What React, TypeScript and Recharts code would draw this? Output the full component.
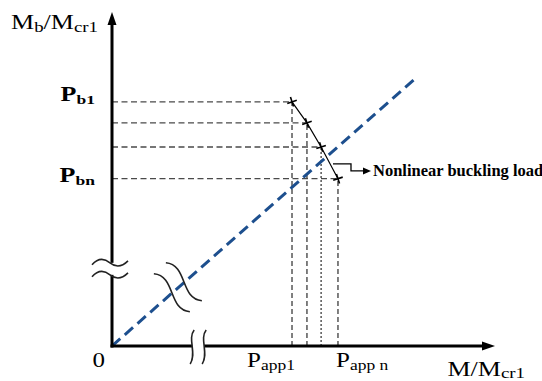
import React from "react";
import { ComposedChart, Line, XAxis, YAxis, ReferenceLine, ReferenceDot } from "recharts";

// ---- data ----
const pointX = [4.7, 5.09, 5.46, 5.9];
const pointY = [7.31, 6.68, 5.96, 5.01];
const loadLineX = [0, 7.96];
const loadLineY = [0, 8.05];
const xTicks = [0, 4.7, 5.9];
const xTickMain = ["0", "P", "P"];
const xTickSub = ["", "app1", "app n"];
const yTicks = [7.31, 5.01];
const yTickMain = ["P", "P"];
const yTickSub = ["b1", "bn"];
const yTitleParts = ["M", "b", "/M", "cr1"];
const xTitleParts = ["M/M", "cr1"];
const annotationText = "Nonlinear buckling load";
const axisMax = 10;
const breakOnY = 2.31;
const breakOnX = 2.25;
const breakOnDiag = { x: 1.72, y: 1.76 };
const annotationAnchor = { x: 5.77, y: 5.45 };

const polyData = pointX.map((x, i) => ({ x, y: pointY[i] }));
const loadData = loadLineX.map((x, i) => ({ x, y: loadLineY[i] }));

const SERIF = '"Liberation Serif", "Times New Roman", serif';
const BLUE = "#1d4f8e";
const GREY = "#4a4a4a";
const vDash = ["5 3", "5 3", "2 2", "5 3"];

const ArrowAxis = (props: any) => {
  const { x1, y1, x2, y2 } = props;
  const dx = x2 - x1;
  const dy = y2 - y1;
  const len = Math.hypot(dx, dy) || 1;
  const ux = dx / len;
  const uy = dy / len;
  const hl = 13;
  const hw = 4.5;
  const bx = x2 - ux * hl;
  const by = y2 - uy * hl;
  return (
    <g>
      <line x1={x1 - ux * 1.5} y1={y1 - uy * 1.5} x2={bx + ux * 2} y2={by + uy * 2} stroke="#000" strokeWidth={3} />
      <polygon
        points={`${x2},${y2} ${bx - uy * hw},${by + ux * hw} ${bx + uy * hw},${by - ux * hw}`}
        fill="#000"
      />
    </g>
  );
};

const Cross = ({ cx, cy }: any) => (
  <g transform={`translate(${cx},${cy}) rotate(-18)`}>
    <line x1={-5} y1={0} x2={5} y2={0} stroke="#000" strokeWidth={1.6} />
    <line x1={0} y1={-5} x2={0} y2={5} stroke="#000" strokeWidth={1.6} />
  </g>
);

const XTick = (props: any) => {
  const { x, y, payload, index } = props;
  let i = xTicks.indexOf(payload.value);
  if (i < 0) i = index;
  const anchor = i === 2 ? "start" : "end";
  const dx = i === 0 ? -7 : i === 1 ? 3 : -2;
  return (
    <g transform={`translate(${x + dx},${y + 21}) scale(1.25,1)`}>
      <text textAnchor={anchor} fontFamily={SERIF} fontSize={20} fill="#000" style={{ whiteSpace: "pre" }}>
        {xTickMain[i]}
        {xTickSub[i] ? (
          <tspan fontSize={14} dy={3}>
            {xTickSub[i]}
          </tspan>
        ) : null}
      </text>
    </g>
  );
};

const YTick = (props: any) => {
  const { x, y, payload, index } = props;
  let i = yTicks.indexOf(payload.value);
  if (i < 0) i = index;
  const dy = i === 0 ? -1 : 3;
  return (
    <g transform={`translate(${x - 17},${y + dy}) scale(1.3,1)`}>
      <text textAnchor="end" fontFamily={SERIF} fontSize={20} fontWeight="bold" fill="#000">
        {yTickMain[i]}
        <tspan fontSize={13.5} dy={3}>
          {yTickSub[i]}
        </tspan>
      </text>
    </g>
  );
};

const YTitle = ({ cx, cy }: any) => (
  <g transform={`translate(${cx - 14},${cy + 17}) scale(1.3,1)`}>
    <text textAnchor="end" fontFamily={SERIF} fontSize={20} fill="#000">
      {yTitleParts[0]}
      <tspan fontSize={14.5} dy={3}>{yTitleParts[1]}</tspan>
      <tspan dy={-3}>{yTitleParts[2]}</tspan>
      <tspan fontSize={14.5} dy={3}>{yTitleParts[3]}</tspan>
    </text>
  </g>
);

const XTitle = ({ cx, cy }: any) => (
  <g transform={`translate(${cx + 30},${cy + 30}) scale(1.3,1)`}>
    <text textAnchor="end" fontFamily={SERIF} fontSize={20} fill="#000">
      {xTitleParts[0]}
      <tspan fontSize={14.5} dy={2}>{xTitleParts[1]}</tspan>
    </text>
  </g>
);

const YBreak = ({ cx, cy }: any) => {
  const t = "M -18 2 C -11 -6, -5 -4, 0 0 S 11 5, 18 -2";
  return (
    <g transform={`translate(${cx - 2},${cy})`}>
      <rect x={-4} y={-6} width={8} height={12} fill="#fff" />
      <path d={t} transform="translate(0,-6)" fill="none" stroke="#222" strokeWidth={1.6} />
      <path d={t} transform="translate(0,6)" fill="none" stroke="#222" strokeWidth={1.6} />
    </g>
  );
};

const XBreak = ({ cx, cy }: any) => {
  const t = "M 2 -17 C -5 -8, 5 6, -2 17";
  return (
    <g transform={`translate(${cx},${cy + 1})`}>
      <rect x={-6} y={-4} width={12} height={8} fill="#fff" />
      <path d={t} transform="translate(-6,0)" fill="none" stroke="#222" strokeWidth={1.6} />
      <path d={t} transform="translate(6,0)" fill="none" stroke="#222" strokeWidth={1.6} />
    </g>
  );
};

const DiagBreak = ({ cx, cy }: any) => {
  const t = "M -18 -19 C 4 -17, -4 17, 18 19";
  return (
    <g transform={`translate(${cx},${cy})`}>
      <path d={t} transform="translate(-6,5.5)" fill="none" stroke="#222" strokeWidth={1.6} />
      <path d={t} transform="translate(6,-5.5)" fill="none" stroke="#222" strokeWidth={1.6} />
    </g>
  );
};

const Annotation = ({ cx, cy }: any) => (
  <g transform={`translate(${cx},${cy})`}>
    <polyline points="0,0 18,0 18,7 32,7" fill="none" stroke="#000" strokeWidth={1.3} />
    <polygon points="38,7 30,3.5 30,10.5" fill="#000" />
    <text x={40} y={12} fontFamily={SERIF} fontSize={16.5} fontWeight="bold" fill="#000">
      {annotationText}
    </text>
  </g>
);

export default function App() {
  return (
    <div style={{ position: "absolute", left: 0, top: 0, background: "#fff" }}>
      <ComposedChart width={542} height={381} margin={{ top: 12, right: 47, bottom: 0, left: 0 }}>
        <XAxis
          type="number"
          dataKey="x"
          domain={[0, axisMax]}
          ticks={xTicks}
          interval={0}
          height={35}
          axisLine={false}
          tickLine={false}
          tickSize={0}
          tickMargin={0}
          tick={<XTick />}
          allowDataOverflow
        />
        <YAxis
          type="number"
          dataKey="y"
          domain={[0, axisMax]}
          ticks={yTicks}
          interval={0}
          width={112}
          axisLine={false}
          tickLine={false}
          tickSize={0}
          tickMargin={0}
          tick={<YTick />}
          allowDataOverflow
        />
        {pointX.map((px, i) => (
          <ReferenceLine
            key={`h${i}`}
            segment={[{ x: 0, y: pointY[i] }, { x: px, y: pointY[i] }]}
            stroke={GREY}
            strokeWidth={1.4}
            strokeDasharray="6 3.5"
            ifOverflow="visible"
          />
        ))}
        {pointX.map((px, i) => (
          <ReferenceLine
            key={`v${i}`}
            segment={[{ x: px, y: 0 }, { x: px, y: pointY[i] }]}
            stroke={GREY}
            strokeWidth={1.4}
            strokeDasharray={vDash[i]}
            ifOverflow="visible"
          />
        ))}
        <Line
          data={loadData}
          dataKey="y"
          stroke={BLUE}
          strokeWidth={3}
          strokeDasharray="11 6"
          dot={false}
          isAnimationActive={false}
        />
        <Line
          data={polyData}
          dataKey="y"
          stroke="#000"
          strokeWidth={1.2}
          dot={(p: any) => <Cross key={`c${p.index}`} cx={p.cx} cy={p.cy} />}
          isAnimationActive={false}
        />
        <ReferenceLine
          segment={[{ x: 0, y: 0 }, { x: axisMax, y: 0 }]}
          shape={<ArrowAxis />}
          ifOverflow="visible"
        />
        <ReferenceLine
          segment={[{ x: 0, y: 0 }, { x: 0, y: axisMax }]}
          shape={<ArrowAxis />}
          ifOverflow="visible"
        />
        <ReferenceDot x={0} y={breakOnY} r={1} shape={<YBreak />} ifOverflow="visible" />
        <ReferenceDot x={breakOnX} y={0} r={1} shape={<XBreak />} ifOverflow="visible" />
        <ReferenceDot x={breakOnDiag.x} y={breakOnDiag.y} r={1} shape={<DiagBreak />} ifOverflow="visible" />
        <ReferenceDot x={annotationAnchor.x} y={annotationAnchor.y} r={1} shape={<Annotation />} ifOverflow="visible" />
        <ReferenceDot x={0} y={axisMax} r={1} shape={<YTitle />} ifOverflow="visible" />
        <ReferenceDot x={axisMax} y={0} r={1} shape={<XTitle />} ifOverflow="visible" />
      </ComposedChart>
    </div>
  );
}
